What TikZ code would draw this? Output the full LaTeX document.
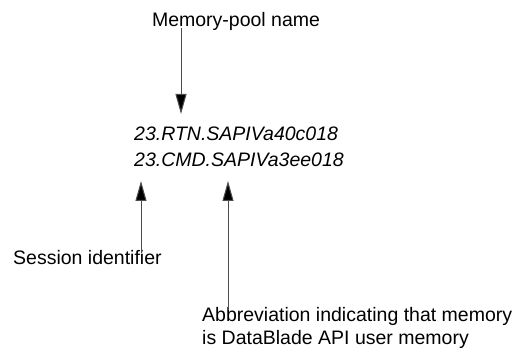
\documentclass[tikz,border=0pt]{standalone}
\usepackage{fontspec}
\setmainfont{Liberation Sans}
\usepackage{tikz}
\usetikzlibrary{arrows.meta,positioning}

\begin{document}
\begin{tikzpicture}[x=1pt,y=-1pt,
lbl/.style={inner sep=0pt,font=\fontsize{19.5}{23}\selectfont,align=left},
code/.style={lbl,font=\fontsize{19.5}{23}\selectfont\itshape},
ptr/.style={draw=black!70,line width=1pt,-{Triangle[length=20pt,width=11pt,fill=black]}}]
\useasboundingbox (0,0) rectangle (517,355);
\node[lbl,anchor=base] (pool) at (236,27) {Memory-pool name};
\node[code,anchor=base west] (rtn) at (134,141) {23.RTN.SAPIVa40c018};
\node[code,anchor=base west] (cmd) at (134,167) {23.CMD.SAPIVa3ee018};
\node[lbl,anchor=base west] (sess) at (13,265) {Session identifier};
\node[lbl,anchor=north west] (abbr) at (202,307) {Abbreviation indicating that memory\\is DataBlade API user memory};
\coordinate (pooltip) at (181,114);
\coordinate (sesstip) at (141,181);
\coordinate (abbrtip) at (228,181);
\draw[ptr] ([yshift=3pt]pool.south -| pooltip) -- (pooltip);
\draw[ptr] ([yshift=-2pt]sess.north -| sesstip) -- (sesstip);
\draw[ptr] ([yshift=-3pt]abbr.north -| abbrtip) -- (abbrtip);
\end{tikzpicture}
\end{document}
